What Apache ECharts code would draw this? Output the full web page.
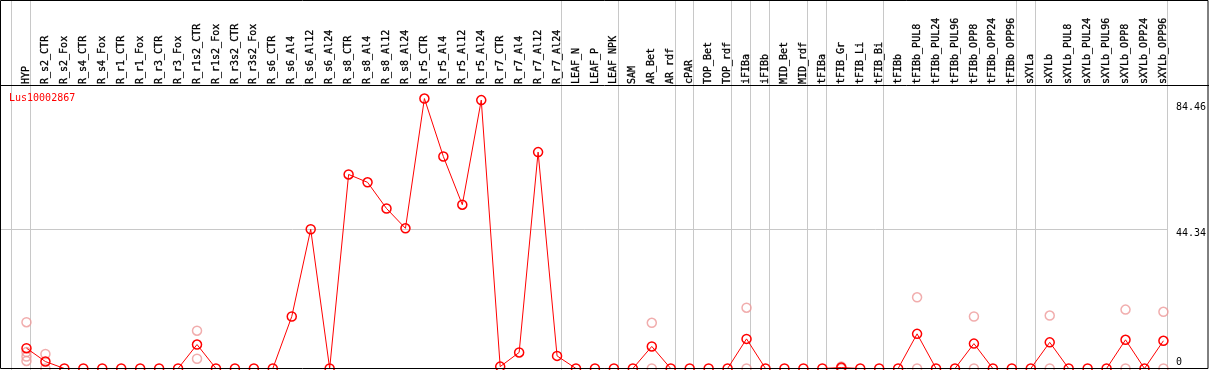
<!DOCTYPE html>
<html>
<head>
<meta charset="utf-8">
<script src="https://cdn.jsdelivr.net/npm/echarts@6/dist/echarts.min.js"></script>
<style>html,body{margin:0;padding:0;background:#fff;}#c{width:1209px;height:370px;}</style>
</head>
<body>
<div id="c"></div>
<script>
const title = 'Lus10002867';
const categories = ['HYP','R_s2_CTR','R_s2_Fox','R_s4_CTR','R_s4_Fox','R_r1_CTR','R_r1_Fox','R_r3_CTR','R_r3_Fox',
 'R_r1s2_CTR','R_r1s2_Fox','R_r3s2_CTR','R_r3s2_Fox','R_s6_CTR','R_s6_Al4','R_s6_Al12','R_s6_Al24',
 'R_s8_CTR','R_s8_Al4','R_s8_Al12','R_s8_Al24','R_r5_CTR','R_r5_Al4','R_r5_Al12','R_r5_Al24',
 'R_r7_CTR','R_r7_Al4','R_r7_Al12','R_r7_Al24','LEAF_N','LEAF_P','LEAF_NPK','SAM','AR_Bet','AR_rdf',
 'cPAR','TOP_Bet','TOP_rdf','iFIBa','iFIBb','MID_Bet','MID_rdf','tFIBa','tFIB_Gr','tFIB_Li','tFIB_Bi',
 'tFIBb','tFIBb_PUL8','tFIBb_PUL24','tFIBb_PUL96','tFIBb_OPP8','tFIBb_OPP24','tFIBb_OPP96',
 'sXYLa','sXYLb','sXYLb_PUL8','sXYLb_PUL24','sXYLb_PUL96','sXYLb_OPP8','sXYLb_OPP24','sXYLb_OPP96'];
const meanValues = [6.45,2.2,0,0,0,0,0,0,0,
 7.6,0,0,0,0,16.5,44.2,0,
 61.6,59.1,50.8,44.5,85.7,67.3,52.0,85.2,
 0.6,5.1,68.7,4.0,0,0,0,0,7.0,0,
 0,0,0,9.4,0,0,0,0,0.3,0,0,
 0,11.0,0,0,7.9,0,0,
 0,8.3,0,0,0,9.1,0,8.8];
const replicateCats = ['HYP','HYP','HYP','HYP','R_s2_CTR','R_s2_CTR','R_r1s2_CTR','R_r1s2_CTR',
 'AR_Bet','AR_Bet','iFIBa','iFIBa','tFIB_Gr','tFIB_Gr','tFIBb_PUL8','tFIBb_PUL8','tFIBb_OPP8','tFIBb_OPP8',
 'sXYLb','sXYLb','sXYLb_OPP8','sXYLb_OPP8','sXYLb_OPP96','sXYLb_OPP96'];
const replicateValues = [14.7,5.2,3.8,2.4,4.6,0,12.0,3.1,
 14.5,0,19.3,0,0.6,0,22.6,0,16.5,0,
 16.8,0,18.7,0,18.0,0];
const groupSeparatorsAfter = [-1,0,28,31,34,35,37,38,39,41,42,45,52,53,60];
const yTickValues = [0,44.34,84.46];
const gridLineValue = 44.34;

const FONT = 'DejaVu Sans Mono';
const chart = echarts.init(document.getElementById('c'), null, {renderer:'canvas'});

function sepX(api, idx){
  const x0 = api.coord([0,0])[0];
  const bw = api.size([1,0])[0];
  return x0 + (idx + 0.2) * bw;
}

chart.setOption({
  animation:false,
  backgroundColor:'#fff',
  title:{text:title,left:4,top:88,textStyle:{color:'#ff0000',fontSize:10,fontWeight:'normal',fontFamily:FONT}},
  grid:{left:17,right:33,top:85,bottom:1.5},
  xAxis:{type:'category',data:categories,position:'top',boundaryGap:true,
    axisLine:{show:false},axisTick:{show:false},splitLine:{show:false},
    axisLabel:{interval:0,rotate:90,margin:1,color:'#000',fontFamily:FONT,fontSize:10,lineHeight:14,
      textBorderColor:'#000',textBorderWidth:0.3}},
  yAxis:{type:'value',min:0,max:90,position:'right',
    axisLine:{show:false},axisTick:{show:false},splitLine:{show:false},
    axisLabel:{customValues:yTickValues,showMinLabel:true,showMaxLabel:true,align:'left',margin:3,color:'#000',
      fontFamily:FONT,fontSize:10,verticalAlign:'middle',
      formatter:function(v){return v===0?'{z|0}':'{t|'+v+'}';},
      rich:{t:{fontFamily:FONT,fontSize:10,color:'#000',padding:[9,0,0,0]},
            z:{fontFamily:FONT,fontSize:10,color:'#000',padding:[0,0,12,0]}}}},
  graphic:[
    {type:'rect',shape:{x:0.5,y:0.5,width:1207.5,height:368},style:{fill:null,stroke:'#000',lineWidth:1},z:100,silent:true},
    {type:'line',shape:{x1:0,y1:85.5,x2:1209,y2:85.5},style:{stroke:'#000',lineWidth:1},z:100,silent:true}
  ],
  series:[
    {type:'custom',z:1,silent:true,clip:false,
      data:groupSeparatorsAfter.map(function(i){return [i,0];}),
      encode:{x:0,y:1},
      renderItem:function(params,api){
        const x = Math.round(sepX(api, api.value(0))) + 0.5;
        return {type:'line',shape:{x1:x,y1:0,x2:x,y2:api.getHeight()},style:{stroke:'#c8c8c8',lineWidth:1}};
      }},
    {type:'custom',z:1,silent:true,clip:false,
      data:[[0,gridLineValue]],
      encode:{x:0,y:1},
      renderItem:function(params,api){
        const y = Math.round(api.coord([0,api.value(1)])[1]) + 0.5;
        const x2 = sepX(api, groupSeparatorsAfter[groupSeparatorsAfter.length-1]);
        return {type:'line',shape:{x1:1,y1:y,x2:x2,y2:y},style:{stroke:'#c8c8c8',lineWidth:1}};
      }},
    {type:'scatter',z:2,silent:true,
      data:replicateCats.map(function(c,i){return [c,replicateValues[i]];}),
      symbol:'circle',symbolSize:9,
      itemStyle:{color:'rgba(0,0,0,0)',borderColor:'#ee9999',borderWidth:1.5}},
    {type:'line',z:3,silent:true,data:meanValues,
      symbol:'circle',symbolSize:9,showAllSymbol:true,
      lineStyle:{color:'#ff0000',width:1},
      itemStyle:{color:'rgba(0,0,0,0)',borderColor:'#ff0000',borderWidth:1.5}}
  ]
});
</script>
</body>
</html>
